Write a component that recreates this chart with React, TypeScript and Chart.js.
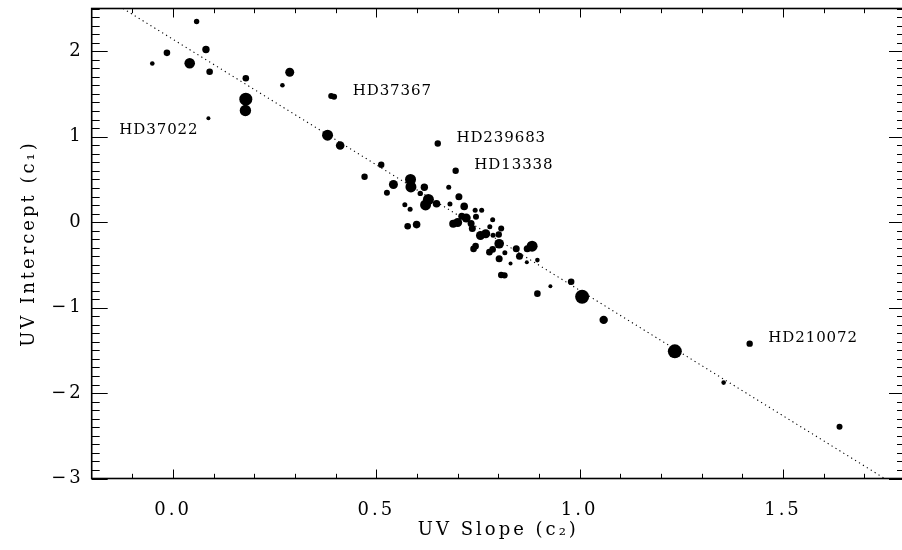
import React, { useEffect, useRef } from "react";
import { Chart, registerables } from "chart.js";
Chart.register(...registerables);

// UV slope (c2) of each star
const c2Slope = [
  0.058, -0.015, -0.051, 0.041, 0.081, 0.09, 0.179, 0.287, 0.269, 0.179,
  0.178, 0.087, 0.389, 0.396, 0.38, 0.411, 0.651, 0.695, 0.512, 0.471,
  0.542, 0.526, 0.584, 0.585, 0.618, 0.608, 0.628, 0.621, 0.648, 0.57,
  0.583, 0.577, 0.599, 0.678, 0.703, 0.681, 0.716, 0.743, 0.759, 0.689,
  0.7, 0.71, 0.721, 0.733, 0.736, 0.745, 0.786, 0.779, 0.807, 0.756,
  0.769, 0.787, 0.801, 0.802, 0.744, 0.739, 0.786, 0.778, 0.844, 0.852,
  0.883, 0.871, 0.802, 0.816, 0.83, 0.87, 0.896, 0.807, 0.815, 0.896,
  0.928, 0.979, 1.006, 1.059, 1.234, 1.418, 1.354, 1.639,
];
// UV intercept (c1) of each star
const c1Intercept = [
  2.347, 1.981, 1.857, 1.86, 2.02, 1.759, 1.684, 1.754, 1.602, 1.439,
  1.306, 1.216, 1.476, 1.467, 1.018, 0.897, 0.92, 0.601, 0.671, 0.531,
  0.441, 0.344, 0.499, 0.412, 0.409, 0.336, 0.265, 0.201, 0.216, 0.204,
  0.152, -0.048, -0.029, 0.409, 0.297, 0.213, 0.184, 0.14, 0.14, -0.019,
  -0.004, 0.07, 0.049, -0.015, -0.074, 0.063, 0.028, -0.054, -0.074, -0.156,
  -0.136, -0.152, -0.144, -0.253, -0.281, -0.313, -0.319, -0.351, -0.311, -0.398,
  -0.281, -0.311, -0.428, -0.358, -0.483, -0.468, -0.444, -0.618, -0.623, -0.837,
  -0.749, -0.697, -0.873, -1.144, -1.512, -1.422, -1.878, -2.393,
];
// symbol radius (weight) of each star
const markerRadius = [
  2.7, 3.3, 2.3, 5.3, 3.7, 3.3, 3.3, 4.5, 2.3, 6.5,
  5.7, 2, 3, 3, 5.5, 4.3, 3.2, 3.2, 3.2, 3.2,
  4.5, 3, 5.5, 5.5, 3.7, 2.7, 5.5, 5.5, 3.8, 2.5,
  2.5, 3.3, 3.8, 2.5, 3.5, 2.5, 3.8, 2.5, 2.5, 4,
  4.5, 3.5, 4.5, 3.5, 3.5, 3, 2.5, 2.5, 3, 4.5,
  4.5, 2.5, 3.2, 4.8, 3.3, 3.3, 3.3, 3.3, 3.5, 3.5,
  5.5, 3.5, 3.5, 2.5, 2, 2, 2.3, 3.2, 3.2, 3.3,
  2, 3.3, 7, 4.2, 7, 3.2, 2.3, 3,
];

// dotted fit line end points
const fitLineC2 = [-0.123, 1.75];
const fitLineC1 = [2.5, -3.0];

// axis ticks
const xTickValues = [0, 0.5, 1.0, 1.5];
const yTickValues = [-3, -2, -1, 0, 1, 2];
const X_MIN = -0.2;
const X_MAX = 1.8;
const Y_MIN = -3;
const Y_MAX = 2.5;

// star annotations (text placed at these data coordinates)
const starNames = ["HD37022", "HD37367", "HD239683", "HD13338", "HD210072"];
const starLabelC2 = [-0.132, 0.442, 0.697, 0.741, 1.464];
const starLabelC1 = [1.073, 1.534, 0.979, 0.669, -1.36];

const FONT = "'DejaVu Serif', 'Liberation Serif', serif";

const fmtY = (v: number) => (v < 0 ? "\u2212" + Math.abs(v) : String(v));

const framePlugin = {
  id: "frameTicks",
  beforeDraw(chart: any) {
    chart.ctx.letterSpacing = "3px";
  },
  afterDatasetsDraw(chart: any) {
    const { ctx, chartArea, scales } = chart;
    const { left, right, top, bottom } = chartArea;
    const x = scales.x;
    const y = scales.y;
    ctx.save();
    ctx.letterSpacing = "0.9px";
    ctx.fillStyle = "#000";
    ctx.font = `15px ${FONT}`;
    ctx.textAlign = "left";
    ctx.textBaseline = "middle";
    starNames.forEach((n, i) => {
      ctx.fillText(n, x.getPixelForValue(starLabelC2[i]), y.getPixelForValue(starLabelC1[i]));
    });
    ctx.restore();

    ctx.save();
    ctx.strokeStyle = "#000";
    ctx.lineWidth = 1;
    ctx.beginPath();
    for (let i = -1; i <= 18; i++) {
      const v = i / 10;
      const px = Math.round(x.getPixelForValue(v)) + 0.5;
      const len = i % 5 === 0 ? 9 : 4.7;
      ctx.moveTo(px, bottom);
      ctx.lineTo(px, bottom - len);
      ctx.moveTo(px, top);
      ctx.lineTo(px, top + len);
    }
    for (let i = -30; i <= 25; i++) {
      const v = i / 10;
      const py = Math.round(y.getPixelForValue(v)) + 0.5;
      const len = i % 10 === 0 ? 16 : 8;
      ctx.moveTo(left, py);
      ctx.lineTo(left + len, py);
      ctx.moveTo(right, py);
      ctx.lineTo(right - len, py);
    }
    ctx.stroke();
    ctx.lineWidth = 1.6;
    ctx.strokeRect(left, top, right - left, bottom - top);
    ctx.restore();
  },
  afterDraw(chart: any) {
    chart.ctx.letterSpacing = "0px";
  },
};

export default function App() {
  const ref = useRef<HTMLCanvasElement | null>(null);
  useEffect(() => {
    if (!ref.current) return;
    const points = c2Slope.map((v, i) => ({ x: v, y: c1Intercept[i] }));
    const line = fitLineC2.map((v, i) => ({ x: v, y: fitLineC1[i] }));
    const chart = new Chart(ref.current, {
      type: "scatter",
      data: {
        datasets: [
          {
            type: "line",
            data: line,
            borderColor: "#000",
            borderWidth: 1.1,
            borderDash: [1.2, 3.4],
            pointRadius: 0,
            fill: false,
          } as any,
          {
            data: points,
            backgroundColor: "#000",
            borderWidth: 0,
            pointRadius: markerRadius,
            pointHoverRadius: markerRadius,
          } as any,
        ],
      },
      options: {
        animation: false,
        responsive: false,
        events: [],
        layout: { padding: { top: 8.5, right: 2, left: 0, bottom: 0 } },
        plugins: { legend: { display: false }, tooltip: { enabled: false } },
        scales: {
          x: {
            type: "linear",
            min: X_MIN,
            max: X_MAX,
            grid: { display: false, drawTicks: false },
            border: { display: false },
            afterBuildTicks: (s: any) => {
              s.ticks = xTickValues.map((v) => ({ value: v }));
            },
            afterFit: (s: any) => {
              s.height = 71.5;
              s.paddingLeft = 0;
              s.paddingRight = 0;
              s.paddingTop = 0;
              s.paddingBottom = 0;
            },
            ticks: {
              color: "#000",
              padding: 21,
              maxRotation: 0,
              font: { family: FONT, size: 18 },
              callback: (v: any) => Number(v).toFixed(1),
            },
            title: {
              display: true,
              text: "UV Slope (c\u2082)",
              color: "#000",
              font: { family: FONT, size: 18 },
              padding: { top: 0, bottom: 9 },
            },
          },
          y: {
            type: "linear",
            min: Y_MIN,
            max: Y_MAX,
            grid: { display: false, drawTicks: false },
            border: { display: false },
            afterBuildTicks: (s: any) => {
              s.ticks = yTickValues.map((v) => ({ value: v }));
            },
            afterFit: (s: any) => {
              s.width = 91.7;
              s.paddingLeft = 0;
              s.paddingRight = 0;
              s.paddingTop = 0;
              s.paddingBottom = 0;
            },
            ticks: {
              color: "#000",
              padding: 8,
              font: { family: FONT, size: 18 },
              callback: (v: any) => fmtY(Number(v)),
            },
            title: {
              display: true,
              text: "UV Intercept (c\u2081)",
              color: "#000",
              font: { family: FONT, size: 18 },
              padding: { top: 19, bottom: 0 },
            },
          },
        },
      },
      plugins: [framePlugin],
    });
    return () => chart.destroy();
  }, []);

  return (
    <div
      style={{
        position: "fixed",
        left: 0,
        top: 0,
        width: 902,
        height: 550,
        overflow: "hidden",
        background: "#fff",
      }}
    >
      <canvas ref={ref} width={912} height={550} style={{ display: "block" }} />
    </div>
  );
}
